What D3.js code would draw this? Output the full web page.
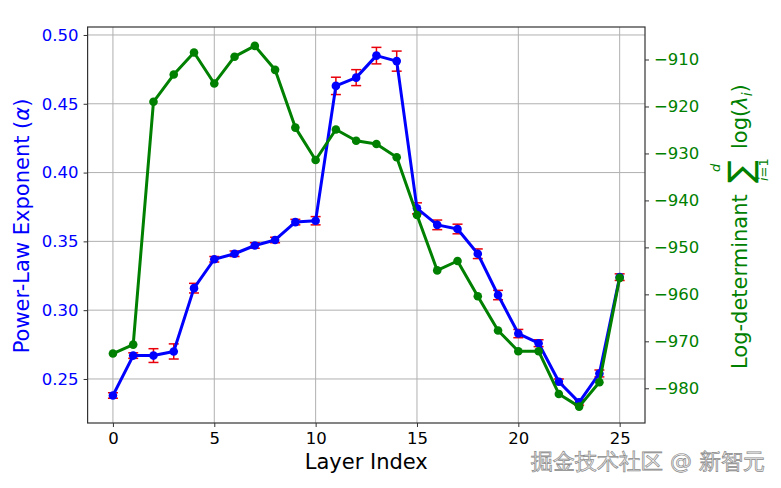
<!DOCTYPE html>
<html>
<head>
<meta charset="utf-8">
<script src="https://cdn.jsdelivr.net/npm/d3@7"></script>
<style>
  body { margin: 0; background: #fff; }
  text { font-family: "DejaVu Sans", sans-serif; }
</style>
</head>
<body>
<div id="container"></div>
<script>
/** DATA */
const layers = d3.range(0, 26);
const alpha = [0.238, 0.267, 0.267, 0.270, 0.316, 0.337, 0.341, 0.347, 0.351, 0.364,
  0.365, 0.463, 0.469, 0.485, 0.481, 0.374, 0.362, 0.359, 0.341, 0.311,
  0.283, 0.276, 0.248, 0.233, 0.254, 0.324];
const alphaErr = [0.002, 0.002, 0.005, 0.0055, 0.0035, 0.002, 0.002, 0.002, 0.002, 0.002,
  0.003, 0.0063, 0.0058, 0.006, 0.0073, 0.004, 0.0035, 0.0035, 0.0035, 0.0034,
  0.003, 0.0025, 0.002, 0.002, 0.0025, 0.0024];
const logdet = [-972.6, -970.7, -919.0, -913.2, -908.5, -915.1, -909.4, -907.1, -912.2, -924.5,
  -931.4, -924.9, -927.3, -928.0, -930.8, -943.1, -954.9, -952.9, -960.4, -967.7,
  -972.1, -972.1, -981.2, -983.9, -978.7, -956.5];
const xTicks = [0, 5, 10, 15, 20, 25];
const leftTicks = [0.25, 0.30, 0.35, 0.40, 0.45, 0.50];
const rightTicks = [-980, -970, -960, -950, -940, -930, -920, -910];

/** CONSTANTS */
const width = 781, height = 488;
const plot = { left: 87.6, right: 645, top: 27, bottom: 423 };
const blue = "#0000ff", green = "#008000", red = "#e8000b";

const svg = d3.select("#container").append("svg")
  .attr("width", width).attr("height", height);

svg.append("rect").attr("width", width).attr("height", height).attr("fill", "#fff");

const x = d3.scaleLinear().domain([-1.25, 26.25]).range([plot.left, plot.right]);
const yL = d3.scaleLinear().domain([0.218, 0.5058]).range([plot.bottom, plot.top]);
const yR = d3.scaleLinear().domain([-987.39, -903.08]).range([plot.bottom, plot.top]);

// grid
svg.append("g").selectAll("line.vg").data(xTicks).join("line")
  .attr("x1", d => x(d)).attr("x2", d => x(d))
  .attr("y1", plot.top).attr("y2", plot.bottom)
  .attr("stroke", "#b0b0b0").attr("stroke-width", 1);
svg.append("g").selectAll("line.hg").data(leftTicks).join("line")
  .attr("x1", plot.left).attr("x2", plot.right)
  .attr("y1", d => yL(d)).attr("y2", d => yL(d))
  .attr("stroke", "#b0b0b0").attr("stroke-width", 1);

// axes
const fmtMinus = d => d < 0 ? "\u2212" + Math.abs(d) : String(d);
const xAxis = svg.append("g").attr("transform", `translate(0,${plot.bottom})`)
  .call(d3.axisBottom(x).tickValues(xTicks).tickSize(4).tickPadding(5));
const lAxis = svg.append("g").attr("transform", `translate(${plot.left},0)`)
  .call(d3.axisLeft(yL).tickValues(leftTicks).tickFormat(d3.format(".2f")).tickSize(4).tickPadding(5));
const rAxis = svg.append("g").attr("transform", `translate(${plot.right},0)`)
  .call(d3.axisRight(yR).tickValues(rightTicks).tickFormat(fmtMinus).tickSize(4).tickPadding(5));

[xAxis, lAxis, rAxis].forEach(g => {
  g.select(".domain").remove();
  g.selectAll(".tick line").attr("stroke", "#333");
  g.selectAll("text").attr("font-size", 16.5).attr("font-family", "DejaVu Sans");
});
xAxis.selectAll("text").attr("fill", "#000");
lAxis.selectAll("text").attr("fill", blue);
rAxis.selectAll("text").attr("fill", green);

// frame
svg.append("rect")
  .attr("x", plot.left).attr("y", plot.top)
  .attr("width", plot.right - plot.left).attr("height", plot.bottom - plot.top)
  .attr("fill", "none").attr("stroke", "#333").attr("stroke-width", 1.2);

// blue errorbars
const eb = svg.append("g").attr("stroke", red).attr("stroke-width", 1.5);
layers.forEach(i => {
  const cx = x(i), y1 = yL(alpha[i] - alphaErr[i]), y2 = yL(alpha[i] + alphaErr[i]);
  eb.append("line").attr("x1", cx).attr("x2", cx).attr("y1", y1).attr("y2", y2);
  eb.append("line").attr("x1", cx - 5).attr("x2", cx + 5).attr("y1", y1).attr("y2", y1);
  eb.append("line").attr("x1", cx - 5).attr("x2", cx + 5).attr("y1", y2).attr("y2", y2);
});

// blue line
svg.append("path").datum(layers)
  .attr("fill", "none").attr("stroke", blue).attr("stroke-width", 3)
  .attr("stroke-linejoin", "round")
  .attr("d", d3.line().x(i => x(i)).y(i => yL(alpha[i])));
svg.append("g").selectAll("circle").data(layers).join("circle")
  .attr("cx", i => x(i)).attr("cy", i => yL(alpha[i])).attr("r", 4.3).attr("fill", blue);

// green line
svg.append("path").datum(layers)
  .attr("fill", "none").attr("stroke", green).attr("stroke-width", 3)
  .attr("stroke-linejoin", "round")
  .attr("d", d3.line().x(i => x(i)).y(i => yR(logdet[i])));
svg.append("g").selectAll("circle").data(layers).join("circle")
  .attr("cx", i => x(i)).attr("cy", i => yR(logdet[i])).attr("r", 4.3).attr("fill", green);

// axis labels
svg.append("text")
  .attr("x", (plot.left + plot.right) / 2).attr("y", 469)
  .attr("text-anchor", "middle").attr("font-size", 21).attr("fill", "#000")
  .text("Layer Index");

const ll = svg.append("text")
  .attr("transform", `translate(29,226) rotate(-90)`)
  .attr("text-anchor", "middle").attr("font-size", 21).attr("fill", blue);
ll.append("tspan").text("Power-Law Exponent (");
ll.append("tspan").attr("font-style", "italic").text("\u03b1");
ll.append("tspan").text(")");

// right label, built in rotated frame (x runs upward on screen)
const rl = svg.append("g").attr("transform", `translate(747,369) rotate(-90)`).attr("fill", green);
rl.append("text").attr("x", 0).attr("y", 0).attr("font-size", 21).text("Log-determinant");
rl.append("text").attr("x", 186).attr("y", 5).attr("font-size", 34).text("\u2211");
rl.append("text").attr("x", 197).attr("y", -27).attr("font-size", 13).attr("font-style", "italic").text("d");
const sub = rl.append("text").attr("x", 188).attr("y", 21).attr("font-size", 13);
sub.append("tspan").attr("font-style", "italic").text("i");
sub.append("tspan").text("=1");
const lg = rl.append("text").attr("x", 220).attr("y", 0).attr("font-size", 21);
lg.append("tspan").text("log(");
lg.append("tspan").attr("font-style", "italic").text("\u03bb");
lg.append("tspan").attr("font-style", "italic").attr("font-size", 14).attr("dy", 5).text("i");
lg.append("tspan").attr("dy", -5).text(")");

// watermark
svg.append("text")
  .attr("x", 765).attr("y", 469).attr("text-anchor", "end")
  .attr("font-family", "Noto Sans CJK SC").attr("font-size", 22)
  .attr("fill", "#f4f4f4").attr("stroke", "#8a8a8a").attr("stroke-width", 0.7)
  .text("掘金技术社区 @ 新智元");
</script>
</body>
</html>
